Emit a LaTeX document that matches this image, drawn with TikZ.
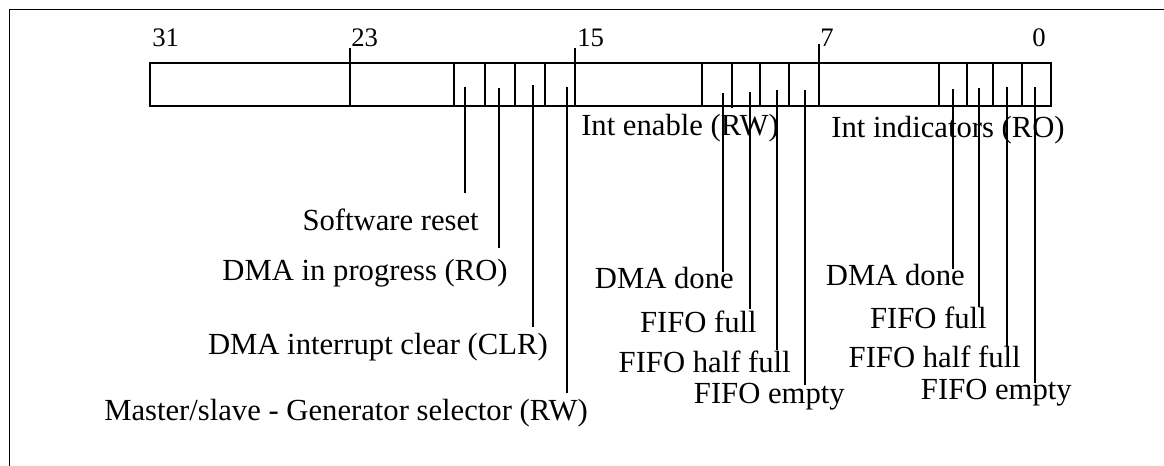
\documentclass[tikz,border=0pt]{standalone}
\usepackage{fontspec}
\setmainfont{Liberation Serif}
\begin{document}
\begin{tikzpicture}[
    x=0.025cm, y=-0.025cm,
    frame/.style={line width=0.6pt},
    field/.style={line width=1.2pt},
    leader/.style={line width=1.2pt},
    bitnum/.style={inner sep=0pt, anchor=base west, font=\fontsize{19}{23}\selectfont},
    fieldname/.style={inner sep=0pt, anchor=base east, font=\fontsize{21.8}{26}\selectfont},
    groupname/.style={inner sep=0pt, anchor=base, font=\fontsize{21.8}{26}\selectfont}
]
\useasboundingbox (0,0) rectangle (1164,466);

% Frame (only top and left edge show)
\draw[frame] (1164,9) -- (9.5,9) -- (9.5,466);

% Register
\draw[field] (150,63) rectangle (1051,106);
\draw[field] (350,48) -- (350,106)
    (454,63) -- (454,106)  (485,63) -- (485,106)
    (515,63) -- (515,106)  (545,63) -- (545,106)
    (575,48) -- (575,106)
    (702,63) -- (702,106)  (732,63) -- (732,108)
    (760,63) -- (760,106)  (789,63) -- (789,106)
    (819,44) -- (819,106)
    (939,63) -- (939,106)  (967,63) -- (967,106)
    (993,63) -- (993,106)  (1022,63) -- (1022,106);

% Bit numbers
\node[bitnum] (b31) at (152,47) {31};
\node[bitnum] (b23) at (351,47) {23};
\node[bitnum] (b15) at (577,47) {15};
\node[bitnum] (b7) at (820,47) {7};
\node[bitnum] (b0) at (1032,47) {0};

% Group labels
\node[groupname] (inten) at (680,135) {Int enable (RW)};
\node[groupname] (intind) at (948,138) {Int indicators (RO)};

% Control bits
\node[fieldname] (sr) at (479,230) {Software reset};
\node[fieldname] (dip) at (508,280) {DMA in progress (RO)};
\node[fieldname] (dic) at (548,354) {DMA interrupt clear (CLR)};
\node[fieldname] (ms) at (588,420) {Master/slave - Generator selector (RW)};

% Int enable bits
\node[fieldname] (edone) at (734,288) {DMA done};
\node[fieldname] (efull) at (757,332) {FIFO full};
\node[fieldname] (ehalf) at (791,372) {FIFO half full};
\node[fieldname] (eempty) at (845,403) {FIFO empty};

% Int indicator bits
\node[fieldname] (idone) at (965,285) {DMA done};
\node[fieldname] (ifull) at (987,328) {FIFO full};
\node[fieldname] (ihalf) at (1021,367) {FIFO half full};
\node[fieldname] (iempty) at (1072,399) {FIFO empty};

% Leader ends
\coordinate (srbit) at (465,87);     \coordinate (srend) at (465,193);
\coordinate (dipbit) at (499,88);    \coordinate (dipend) at (499,248);
\coordinate (dicbit) at (533,85);    \coordinate (dicend) at (533,327);
\coordinate (msbit) at (567,87);     \coordinate (msend) at (567,393);
\coordinate (edonebit) at (723,93);  \coordinate (edoneend) at (723,272);
\coordinate (efullbit) at (750,92);  \coordinate (efullend) at (750,309);
\coordinate (ehalfbit) at (777,90);  \coordinate (ehalfend) at (777,350);
\coordinate (eemptybit) at (805,90); \coordinate (eemptyend) at (805,385);
\coordinate (idonebit) at (953,89);  \coordinate (idoneend) at (953,269);
\coordinate (ifullbit) at (979,88);  \coordinate (ifullend) at (979,307);
\coordinate (ihalfbit) at (1007,87); \coordinate (ihalfend) at (1007,347);
\coordinate (iemptybit) at (1035,87); \coordinate (iemptyend) at (1035,383);

% Leaders
\draw[leader] (srbit) -- (srend);
\draw[leader] (dipbit) -- (dipend);
\draw[leader] (dicbit) -- (dicend);
\draw[leader] (msbit) -- (msend);
\draw[leader] (edonebit) -- (edoneend);
\draw[leader] (efullbit) -- (efullend);
\draw[leader] (ehalfbit) -- (ehalfend);
\draw[leader] (eemptybit) -- (eemptyend);
\draw[leader] (idonebit) -- (idoneend);
\draw[leader] (ifullbit) -- (ifullend);
\draw[leader] (ihalfbit) -- (ihalfend);
\draw[leader] (iemptybit) -- (iemptyend);

\end{tikzpicture}
\end{document}
